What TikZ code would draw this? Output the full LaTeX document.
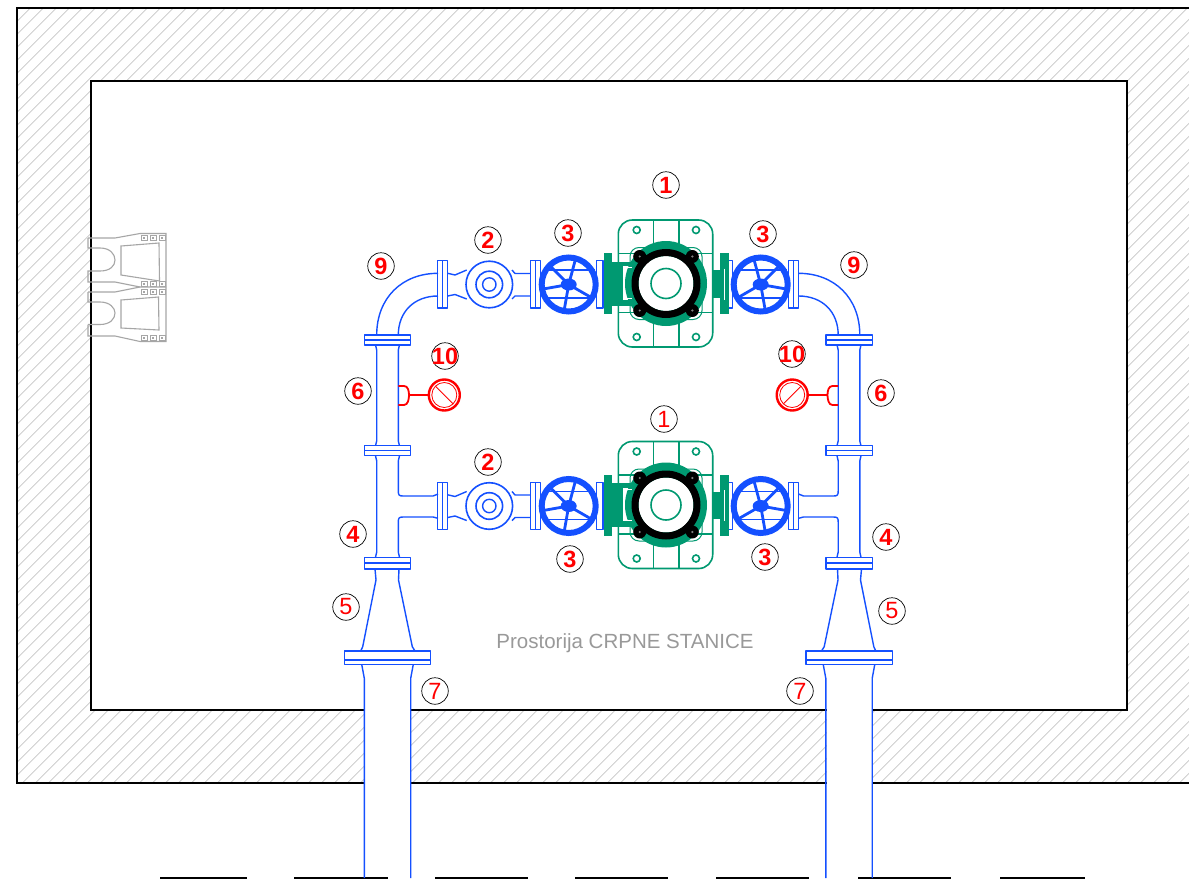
\documentclass[tikz,border=0pt]{standalone}
\usepackage{fontspec}
\setmainfont{Liberation Sans}
\definecolor{azul}{RGB}{20,80,255}
\definecolor{verde}{RGB}{0,153,113}
\tikzset{
  muro/.style={black, line width=2.8pt},
  rayado/.style={gray!45, line width=0.8pt},
  tubo/.style={azul, line width=1.4pt, line join=round},
  bombeo/.style={verde, line width=1.6pt},
  aparato/.style={gray!70, line width=1.1pt},
  rojo/.style={red, line width=1.8pt},
  numero/.style={circle, draw=black, line width=0.7pt, minimum size=26.5pt, inner sep=0pt, text=red,
    font=\fontsize{23.5}{24}\selectfont\bfseries},
  numerofino/.style={numero, font=\fontsize{23.5}{24}\selectfont},
  rueda/.pic={
    \draw[azul, line width=6pt] (0,0) circle (27);
    \draw[tubo] (-26,-14.5) -- (26,-14.5);
    \draw[tubo] (-26,13.5) -- (26,13.5);
    \foreach \ang in {100,30,-75,-135,170}
      \draw[azul, line width=2.8pt] (0,0) -- (\ang:26);
    \fill[azul] (0,0) ellipse (8 and 6);
  },
  bomba/.pic={
    \draw[bombeo, rounded corners=14pt] (-47.7,-63.5) rectangle (46.7,63.5);
    \foreach \x in {-12.7,13}
      \draw[bombeo] (\x,-63.5) -- (\x,63.5);
    \foreach \y in {-30,29}
      \draw[bombeo] (-47.7,\y) -- (46.7,\y);
    \foreach \x in {-29.3,30}
      \foreach \y in {-53.5,53.5}
        \draw[bombeo] (\x,\y) circle (3.5);
    \draw[bombeo, line width=1pt, rounded corners=9pt] (-36,-36) rectangle (36,36);
    \fill[verde] (0,0) ellipse (41 and 42.5);
    \foreach \x in {-26.3,26.3}
      \foreach \y in {-27,27} {
        \draw[black, line width=6pt] (0,0) -- (\x,\y);
        \fill[black] (\x,\y) circle (6.5);
      }
    \fill[white] (0,0) circle (27.5);
    \draw[black, line width=7pt] (0,0) circle (31);
    \foreach \x in {-26.3,26.3}
      \foreach \y in {-27,27}
        \fill[gray] (\x,\y) circle (1.2);
    \draw[bombeo] (0,0) circle (15);
  },
  grupo/.pic={
    % Valvula de retencion
    \draw[tubo] (437.7,-23.8) rectangle (447.7,23.5);
    \draw[tubo] (442.7,-23.8) -- (442.7,23.5);
    \draw[tubo] (447.7,-11.2) -- (455,-9.5) -- (466.7,-14.5);
    \draw[tubo] (447.7,11.5) -- (455,10) -- (466.7,14.5);
    \draw[tubo, line width=1.6pt] (489.3,0) circle (23.3);
    \draw[tubo, line width=1.6pt] (489.3,0) circle (13.3);
    \draw[tubo] (489.3,0) circle (6.7);
    \draw[tubo] (512,-14.5) -- (515,-11) -- (530.7,-11);
    \draw[tubo] (512,14.5) -- (515,11.5) -- (530.7,11.5);
    \draw[tubo] (530.7,-23.8) rectangle (540.7,23.5);
    \draw[tubo] (535.7,-23.8) -- (535.7,23.5);
    % Ruedas
    \pic at (568.7,0) {rueda};
    \draw[tubo] (596.7,-23.8) rectangle (603,23.5);
    \begin{scope}[xshift=760.7pt, xscale=-1]
      \pic[transform shape] at (0,0) {rueda};
    \end{scope}
    \draw[tubo] (727,-23.8) rectangle (732.7,23.5);
    \draw[tubo] (788.3,-23.8) rectangle (798.3,23.5);
    \draw[tubo] (793.3,-23.8) -- (793.3,23.5);
    % Bomba
    \pic at (666,-1) {bomba};
    \fill[verde] (604,-31.2) rectangle (612,29.8);
    \fill[verde] (612,-18.5) rectangle (623.3,15);
    \fill[verde] (612,-23) rectangle (632,-18.5);
    \fill[verde] (612,15) rectangle (632,21);
    \draw[white, line width=0.8pt] (623.3,-17) -- (632,-17);
    \draw[white, line width=0.8pt] (623.3,14) -- (632,14);
    \fill[verde] (711.7,-14.5) rectangle (720,13);
    \fill[verde] (720,-31.2) rectangle (728.7,29.8);
    \draw[white, line width=0.8pt] (724,-16) -- (724,15);
  },
  columna/.pic={
    % Codo
    \draw[tubo] (376.7,335) .. controls (376.7,298) and (402,273.3) .. (438,273.3);
    \draw[tubo] (398.3,335) .. controls (398.3,312) and (414,296) .. (438,296);
    \draw[tubo] (364.3,335) rectangle (410.7,345);
    \draw[tubo] (364.3,340) -- (410.7,340);
    % Tramo recto
    \draw[tubo] (375.5,345) -- (376.7,350) -- (376.7,441) -- (375.5,445.7);
    \draw[tubo] (399.5,345) -- (398.3,350) -- (398.3,441) -- (399.5,445.7);
    \draw[tubo] (364.3,445.7) rectangle (410.7,455.7);
    \draw[tubo] (364.3,450.7) -- (410.7,450.7);
    % Te
    \draw[tubo] (375.5,455.7) -- (376.7,461) -- (376.7,552) -- (375.5,557.3);
    \draw[tubo] (399.5,455.7) -- (398.3,461) -- (398.3,491) .. controls (398.3,495) and (399,496) .. (403,496) -- (433,496) -- (438,494);
    \draw[tubo] (438,518.3) -- (433,517) -- (403,517) .. controls (399,517) and (398.3,518) .. (398.3,522) -- (398.3,552) -- (399.5,557.3);
    \draw[tubo] (364.3,557.3) rectangle (410.7,569);
    \draw[tubo, line width=2pt] (364.3,562.8) -- (410.7,562.8);
    % Reduccion
    \draw[tubo] (375,569) -- (376,580) -- (362.7,646.7) -- (360.7,651) -- (344.3,651);
    \draw[tubo] (399,569) -- (398.5,580) -- (412.3,646.7) -- (415,651) -- (430.7,651);
    \draw[tubo] (344.3,651) rectangle (430.7,664.3);
    \draw[tubo, line width=2pt] (344.3,659.5) -- (430.7,659.5);
    \draw[tubo] (361.7,664.3) -- (364.3,678.3) -- (364.3,878);
    \draw[tubo] (413.3,664.3) -- (410.7,678.3) -- (410.7,878);
    % Manometro
    \draw[rojo] (398.3,386) -- (404,386) .. controls (408,386) and (409,391) .. (409,395) .. controls (409,399) and (408,405) .. (404,405) -- (398.3,405);
    \draw[rojo] (409,395) -- (428,395);
    \draw[rojo, line width=2.4pt] (444.3,395) circle (15.5);
    \draw[red, line width=0.8pt] (444.3,395) circle (12.5);
    \draw[red, line width=0.8pt] (435.5,386.2) -- (453.1,403.8);
  }
}
\begin{document}
\begin{tikzpicture}[x=1pt, y=-1pt]
  \useasboundingbox (0,0) rectangle (1189,881);

  % Rayado del muro
  \begin{scope}
    \clip (17,8) rectangle (1189,783);
    \foreach \i in {25.4,38.4,...,2000}
      \draw[rayado] (\i,0) -- ++(-800,800);
  \end{scope}
  \fill[white] (91,81) rectangle (1127,710);
  \fill[white] (364.3,709) rectangle (410.7,785);
  \fill[white] (826.7,709) rectangle (872.3,785);

  % Muro
  \draw[muro] (1189,8) -- (17,8) -- (17,783) -- (364.3,783);
  \draw[muro] (410.7,783) -- (826.7,783);
  \draw[muro] (872.3,783) -- (1189,783);
  \draw[muro] (364.3,710) -- (91,710) -- (91,81) -- (1127,81) -- (1127,710) -- (872.3,710);
  \draw[muro] (410.7,710) -- (826.7,710);

  % Suelo exterior
  \foreach \a/\b in {160/247,294/388,435/528,575/668,716/809,858/951,1000/1085}
    \draw[black, line width=1.3pt] (\a,878) -- (\b,878);

  % Aparato de la pared
  \draw[aparato] (88,238) -- (115,238) -- (140,233.5) -- (166,233.5) -- (166,341.5) -- (140,341.5) -- (115,336) -- (88,336) -- (88,324.5);
  \draw[aparato] (88,238) -- (88,248) -- (100,248) .. controls (110,248) and (115,254) .. (115,260) .. controls (115,266) and (110,271) .. (100,271) -- (88,271) -- (88,282) -- (115,282) -- (140,287) -- (166,287);
  \draw[aparato] (88,292) -- (115,292) -- (140,287);
  \draw[aparato] (88,292) -- (88,302) -- (100,302) .. controls (110,302) and (115,308) .. (115,313) .. controls (115,319) and (110,324.5) .. (100,324.5) -- (88,324.5);
  \draw[aparato] (121,246) -- (159,243) -- (159.5,281) -- (121,275) -- cycle;
  \draw[aparato] (121,300) -- (158.5,297) -- (159,330) -- (121,328) -- cycle;
  \foreach \x in {141,150,159}
    \foreach \y in {235,281,289,335} {
      \draw[gray!70, line width=0.7pt] (\x,\y) rectangle ++(6,5.5);
      \fill[gray!70] (\x+2,\y+2) rectangle ++(2,1.5);
    }

  % Columnas de tuberia
  \pic at (0,0) {columna};
  \begin{scope}[xshift=1236.5pt, xscale=-1]
    \pic[transform shape] at (0,0) {columna};
  \end{scope}

  % Grupos de bombeo
  \pic at (0,284.5) {grupo};
  \pic at (0,506) {grupo};

  % Etiquetas
  \node[numero] (n1a) at (666,185) {1};
  \node[numerofino] (n1b) at (664,419) {1};
  \node[numero] (n2a) at (488,240) {2};
  \node[numero] (n2b) at (488,462) {2};
  \node[numero] (n3a) at (568,233) {3};
  \node[numero] (n3b) at (763,234) {3};
  \node[numero] (n3c) at (570,559) {3};
  \node[numero] (n3d) at (765,557) {3};
  \node[numero] (n4a) at (353,534) {4};
  \node[numero] (n4b) at (886,537) {4};
  \node[numerofino] (n5a) at (346,607) {5};
  \node[numerofino] (n5b) at (892,611) {5};
  \node[numero] (n6a) at (358,391) {6};
  \node[numero] (n6b) at (881,393) {6};
  \node[numerofino] (n7a) at (435,691) {7};
  \node[numerofino] (n7b) at (800,691) {7};
  \node[numero] (n9a) at (381,266) {9};
  \node[numero] (n9b) at (854,265) {9};
  \node[numero] (n10a) at (445,356) {\makebox[0pt]{10}};
  \node[numero] (n10b) at (792,354) {\makebox[0pt]{10}};

  % Nombre de la sala
  \node[text=gray!80, font=\fontsize{20.5}{21}\selectfont] (sala) at (625,643) {Prostorija CRPNE STANICE};
\end{tikzpicture}
\end{document}
